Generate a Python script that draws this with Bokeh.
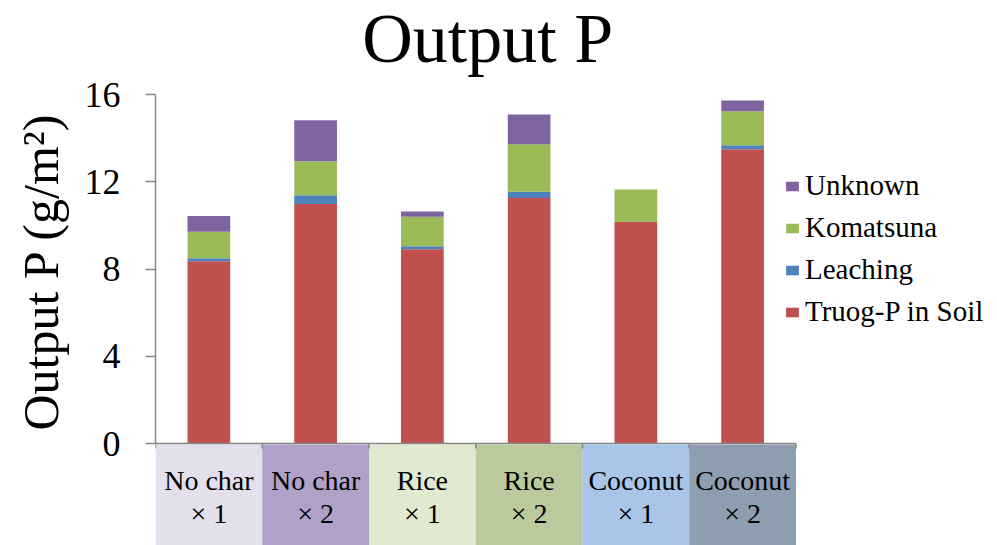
from bokeh.plotting import figure
from bokeh.models import Range1d, Legend, LegendItem, FixedTicker, ColumnDataSource, Title, Label
from bokeh.embed import file_html
from bokeh.resources import INLINE
from bokeh.core.properties import value

# ---- data ----
groups = ["No char", "No char", "Rice", "Rice", "Coconut", "Coconut"]
mults = ["× 1", "× 2", "× 1", "× 2", "× 1", "× 2"]
categories = [f"{g} {m}" for g, m in zip(groups, mults)]
soil = [8.35, 10.98, 8.91, 11.25, 10.15, 13.49]
leaching = [0.14, 0.40, 0.13, 0.29, 0.0, 0.18]
komatsuna = [1.22, 1.56, 1.36, 2.18, 1.50, 1.56]
unknown = [0.72, 1.88, 0.24, 1.36, 0.0, 0.50]
series_names = ["Truog-P in Soil", "Leaching", "Komatsuna", "Unknown"]
series_colors = ["#C0504D", "#4F81BD", "#9BBB59", "#8064A2"]
box_colors = ["#E4DFEC", "#B1A0C7", "#E0EAD1", "#BACA9C", "#A9C6E9", "#8E9DB0"]
y_ticks = [0, 4, 8, 12, 16]
title_text = "Output P"
y_title_text = "Output P (g/m²)"

FONT = "Liberation Serif"
n = len(categories)
xs = [i + 0.5 for i in range(n)]  # category slot centres

src = ColumnDataSource(dict(x=xs, cat=categories, soil=soil, leaching=leaching,
                            komatsuna=komatsuna, unknown=unknown))

PX = 21.8125  # pixels per y unit
# frame: left edge at 153 px, one category slot = 107 px; frame fills to top/right/bottom
p = figure(width=997, height=545, title=None,
           x_range=Range1d(0, (997 - 153) / 107),
           y_range=Range1d(-102 / PX, 16 + 94 / PX),
           output_backend="svg", toolbar_location=None,
           x_axis_location=None,
           min_border_left=153, min_border_right=0,
           min_border_top=0, min_border_bottom=0)
p.outline_line_color = None
p.xgrid.visible = False
p.ygrid.visible = False

# chart title
p.add_layout(Label(x=(486 - 153) / 107, y=16 + (94 - 38) / PX, text=title_text,
                   text_align="center", text_baseline="middle",
                   text_font=FONT, text_font_size="70px", text_color="black"))

# category boxes below the axis
box_top, box_bot = -1 / PX, -102 / PX
p.rect(x=xs, y=(box_top + box_bot) / 2, width=1, height=box_top - box_bot,
       fill_color=box_colors, line_color=None)
p.text(x=xs, y=-37 / PX, text=groups, text_align="center", text_baseline="middle",
       text_font=value(FONT), text_font_size="28px", text_color="black")
p.text(x=xs, y=-70 / PX, text=mults, text_align="center", text_baseline="middle",
       text_font=value(FONT), text_font_size="28px", text_color="black")

renderers = p.vbar_stack(["soil", "leaching", "komatsuna", "unknown"], x="x", width=0.4,
                         color=series_colors, line_color=None, source=src)

# x axis line and category boundary ticks
p.segment(x0=[0], y0=[0], x1=[n], y1=[0], line_color="#868686", line_width=1.5)
bounds = list(range(n + 1))
p.segment(x0=bounds, y0=[0] * len(bounds), x1=bounds, y1=[-5 / PX] * len(bounds),
          line_color="#868686", line_width=1.5)

yax = p.yaxis[0]
yax.ticker = FixedTicker(ticks=y_ticks)
yax.bounds = (0, 16)
yax.axis_line_color = "#868686"
yax.axis_line_width = 1.5
yax.major_tick_line_color = "#868686"
yax.major_tick_line_width = 1.5
yax.major_tick_out = 10
yax.major_tick_in = 0
yax.minor_tick_line_color = None
yax.major_label_text_font = FONT
yax.major_label_text_font_size = "36px"
yax.major_label_text_color = "black"
yax.major_label_standoff = 25

ytitle = Title(text=y_title_text, text_font=FONT, text_font_size="50px",
               text_font_style="normal", text_color="black", align="left",
               vertical_align="middle", offset=115, standoff=23)
p.add_layout(ytitle, "left")

items = [LegendItem(label=s, renderers=[r]) for s, r in zip(series_names, renderers)][::-1]
legend = Legend(items=items, location=(629, 217), orientation="vertical",
                label_text_font=FONT, label_text_font_size="29px", label_text_color="black",
                glyph_width=16, glyph_height=12, label_standoff=5,
                label_height=28, spacing=9, padding=0, margin=0,
                border_line_color=None, background_fill_alpha=0)
p.add_layout(legend, "center")

open("out.html", "w").write(file_html(p, INLINE))
